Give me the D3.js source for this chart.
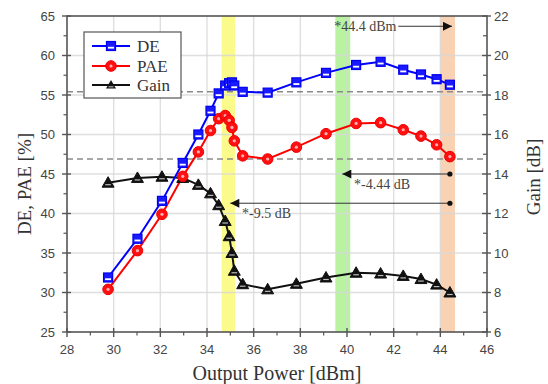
<!DOCTYPE html>
<html><head><meta charset="utf-8">
<script src="https://cdn.jsdelivr.net/npm/d3@7"></script>
<style>body{margin:0;background:#fff}svg{display:block}</style>
</head><body><svg id="c" width="548" height="384"></svg>
<script>
const power = [29.76,31.02,32.07,32.96,33.63,34.15,34.5,34.78,34.95,35.07,35.17,35.53,36.6,37.83,39.1,40.39,41.44,42.41,43.17,43.84,44.41];
const de    = [31.9,36.8,41.6,46.4,50.0,53.0,55.2,56.2,56.5,56.6,56.2,55.4,55.3,56.6,57.8,58.8,59.2,58.2,57.6,57.0,56.3];
const pae   = [30.4,35.3,39.9,44.7,47.8,50.5,52.0,52.4,51.8,50.9,49.2,47.3,46.9,48.4,50.1,51.4,51.5,50.6,49.8,48.7,47.2];
const gain  = [13.56,13.8,13.86,13.8,13.45,13.02,12.42,11.62,10.85,10.0,9.1,8.42,8.16,8.44,8.76,9.0,8.96,8.84,8.68,8.4,8.0];
const xTicks = [28,30,32,34,36,38,40,42,44,46];
const yTicks = [25,30,35,40,45,50,55,60,65];
const gTicks = [6,8,10,12,14,16,18,20,22];
const bands = [{from:34.63,to:35.2,color:"#fbfb8c"},{from:39.5,to:40.14,color:"#b9f3a2"},{from:44.0,to:44.63,color:"#f9d2b4"}];
const refLines = [55.4,46.9];
const seriesNames = ["DE","PAE","Gain"];

const L=67,R=487,T=16,B=332;
const x=d3.scaleLinear().domain([28,46]).range([L,R]);
const y=d3.scaleLinear().domain([25,65]).range([B,T]);
const yg=d3.scaleLinear().domain([6,22]).range([B,T]);
const svg=d3.select("#c");
const axisCol="#555", labCol="#444";

// bands
svg.selectAll(".band").data(bands).join("rect")
  .attr("x",d=>x(d.from)).attr("width",d=>x(d.to)-x(d.from))
  .attr("y",T).attr("height",B-T).attr("fill",d=>d.color);
// grid
const gx=xTicks.slice(1,-1), gy=yTicks.slice(1,-1);
svg.selectAll(".gv").data(gx).join("line").attr("x1",d=>x(d)).attr("x2",d=>x(d)).attr("y1",T).attr("y2",B)
  .attr("stroke","#d8d8d8").attr("stroke-width",1.4).attr("opacity",0.8);
svg.selectAll(".gh").data(gy).join("line").attr("y1",d=>y(d)).attr("y2",d=>y(d)).attr("x1",L).attr("x2",R)
  .attr("stroke","#d8d8d8").attr("stroke-width",1.4).attr("opacity",0.8);
// dashed ref lines
svg.selectAll(".ref").data(refLines).join("line").attr("x1",L).attr("x2",R).attr("y1",d=>y(d)).attr("y2",d=>y(d))
  .attr("stroke","#8a8a8a").attr("stroke-width",1.5).attr("stroke-dasharray","6,4");

// defs arrow
svg.append("defs").append("marker").attr("id","ah").attr("viewBox","0 0 10 10").attr("refX",10).attr("refY",5)
  .attr("markerWidth",11).attr("markerHeight",9).attr("markerUnits","userSpaceOnUse").attr("orient","auto")
  .append("path").attr("d","M0,0L10,5L0,10Z").attr("fill","#111");

// annotations
function arrow(x1,v1,x2,v2,dot){
  svg.append("line").attr("x1",x(x1)).attr("x2",x(x2)).attr("y1",y(v1)).attr("y2",y(v2))
    .attr("stroke","#333").attr("stroke-width",1).attr("marker-end","url(#ah)");
  if(dot) svg.append("circle").attr("cx",x(x1)).attr("cy",y(v1)).attr("r",2.6).attr("fill","#111");
}
arrow(44.41,45.0,39.8,45.0,true);
arrow(44.41,41.3,35.0,41.3,true);
arrow(42.2,63.7,44.5,63.7,false);
const annF="'Liberation Serif','Times New Roman',serif";
svg.append("text").attr("x",x(39.45)).attr("y",y(63.7)).attr("dy","0.35em").attr("font-family",annF).attr("font-size",14).attr("fill","#444").text("*44.4 dBm");
svg.append("text").attr("x",x(40.3)).attr("y",y(43.7)).attr("dy","0.35em").attr("font-family",annF).attr("font-size",14).attr("fill","#444").text("*-4.44 dB");
svg.append("text").attr("x",x(35.5)).attr("y",y(40.0)).attr("dy","0.35em").attr("font-family",annF).attr("font-size",14).attr("fill","#444").text("*-9.5 dB");

// lines
const lineL=d3.line().x((d,i)=>x(power[i])).y(d=>y(d));
const lineG=d3.line().x((d,i)=>x(power[i])).y(d=>yg(d));
svg.append("path").attr("d",lineG(gain)).attr("fill","none").attr("stroke","#111").attr("stroke-width",2);
svg.append("path").attr("d",lineL(pae)).attr("fill","none").attr("stroke","#ff0000").attr("stroke-width",2);
svg.append("path").attr("d",lineL(de)).attr("fill","none").attr("stroke","#0000ff").attr("stroke-width",2);

// markers
function sq(g,cx,cy){
  g.append("rect").attr("x",cx-4.5).attr("y",cy-4.5).attr("width",9).attr("height",9).attr("fill","#1a1aff").attr("stroke","#0000ee").attr("stroke-width",1.2);
  g.append("rect").attr("x",cx-3).attr("y",cy+0.8).attr("width",6).attr("height",1.8).attr("fill","#fff");
}
function ci(g,cx,cy){
  g.append("circle").attr("cx",cx).attr("cy",cy).attr("r",5.3).attr("fill","#ff1010").attr("stroke","#ee0000").attr("stroke-width",1);
  g.append("circle").attr("cx",cx).attr("cy",cy).attr("r",1.6).attr("fill","#ffb0b0");
}
function tr(g,cx,cy){
  g.append("path").attr("d",`M${cx},${cy-6}L${cx+6},${cy+4.5}L${cx-6},${cy+4.5}Z`).attr("fill","#111").attr("stroke","#111").attr("stroke-width",1);
  g.append("line").attr("x1",cx-2.8).attr("x2",cx+2.8).attr("y1",cy+2).attr("y2",cy+2).attr("stroke","#bbb").attr("stroke-width",1.2);
}
const mg=svg.append("g");
gain.forEach((d,i)=>tr(mg,x(power[i]),yg(d)));
pae.forEach((d,i)=>ci(mg,x(power[i]),y(d)));
de.forEach((d,i)=>sq(mg,x(power[i]),y(d)));

// frame & axes
svg.append("rect").attr("x",L).attr("y",T).attr("width",R-L).attr("height",B-T).attr("fill","none").attr("stroke",axisCol).attr("stroke-width",1.6);
const tickF="'Liberation Sans',Arial,sans-serif";
// bottom
xTicks.forEach(t=>{
  svg.append("line").attr("x1",x(t)).attr("x2",x(t)).attr("y1",B-4).attr("y2",B+5).attr("stroke",axisCol).attr("stroke-width",1.4);
});
d3.range(29,46,2).forEach(t=>{
  svg.append("line").attr("x1",x(t)).attr("x2",x(t)).attr("y1",B).attr("y2",B+3.5).attr("stroke",axisCol).attr("stroke-width",1.2);
});
svg.selectAll(".xl").data(xTicks).join("text").attr("x",d=>x(d)).attr("y",B+22).attr("text-anchor","middle")
  .attr("font-family",tickF).attr("font-size",13).attr("fill",labCol).text(d=>d);
// left
yTicks.forEach(t=>{
  svg.append("line").attr("x1",L-5).attr("x2",L+4).attr("y1",y(t)).attr("y2",y(t)).attr("stroke",axisCol).attr("stroke-width",1.4);
});
d3.range(27.5,65,5).forEach(t=>{
  svg.append("line").attr("x1",L-3.5).attr("x2",L).attr("y1",y(t)).attr("y2",y(t)).attr("stroke",axisCol).attr("stroke-width",1.2);
});
svg.selectAll(".yl").data(yTicks).join("text").attr("x",L-12).attr("y",d=>y(d)).attr("dy","0.36em").attr("text-anchor","end")
  .attr("font-family",tickF).attr("font-size",13).attr("fill",labCol).text(d=>d);
// right
gTicks.forEach(t=>{
  svg.append("line").attr("x1",R-5).attr("x2",R+4).attr("y1",yg(t)).attr("y2",yg(t)).attr("stroke",axisCol).attr("stroke-width",1.4);
});
d3.range(7,22,2).forEach(t=>{
  svg.append("line").attr("x1",R-4).attr("x2",R).attr("y1",yg(t)).attr("y2",yg(t)).attr("stroke",axisCol).attr("stroke-width",1.2);
});
svg.selectAll(".gl").data(gTicks).join("text").attr("x",R+7).attr("y",d=>yg(d)).attr("dy","0.36em").attr("text-anchor","start")
  .attr("font-family",tickF).attr("font-size",13).attr("fill",labCol).text(d=>d);

// titles
const titF="'Liberation Serif','Times New Roman',serif";
svg.append("text").attr("x",(L+R)/2).attr("y",380).attr("text-anchor","middle").attr("font-family",titF).attr("font-size",20).attr("fill","#333").text("Output Power [dBm]");
svg.append("text").attr("transform","translate(31,184) rotate(-90)").attr("text-anchor","middle").attr("font-family",titF).attr("font-size",19).attr("fill","#333").text("DE, PAE [%]");
svg.append("text").attr("transform","translate(540,177) rotate(-90)").attr("text-anchor","middle").attr("font-family",titF).attr("font-size",19).attr("fill","#333").text("Gain [dB]");

// legend
const lg=svg.append("g");
lg.append("rect").attr("x",84).attr("y",32).attr("width",97).attr("height",66).attr("fill","#fff").attr("stroke","#555").attr("stroke-width",1.2);
const rows=[46,66,85], cols=["#0000ff","#ff0000","#111"], fns=[sq,ci,tr];
seriesNames.forEach((n,i)=>{
  lg.append("line").attr("x1",92).attr("x2",130).attr("y1",rows[i]).attr("y2",rows[i]).attr("stroke",cols[i]).attr("stroke-width",2);
  if(i===2){
    lg.append("path").attr("d",`M111,${rows[i]-5}L116,${rows[i]+3.5}L106,${rows[i]+3.5}Z`).attr("fill","#111");
    lg.append("line").attr("x1",108.5).attr("x2",113.5).attr("y1",rows[i]+1.8).attr("y2",rows[i]+1.8).attr("stroke","#bbb").attr("stroke-width",1.1);
  } else fns[i](lg,111,rows[i]);
  lg.append("text").attr("x",137).attr("y",rows[i]).attr("dy","0.35em").attr("font-family",titF).attr("font-size",17).attr("fill","#333").text(n);
});
</script></body></html>
